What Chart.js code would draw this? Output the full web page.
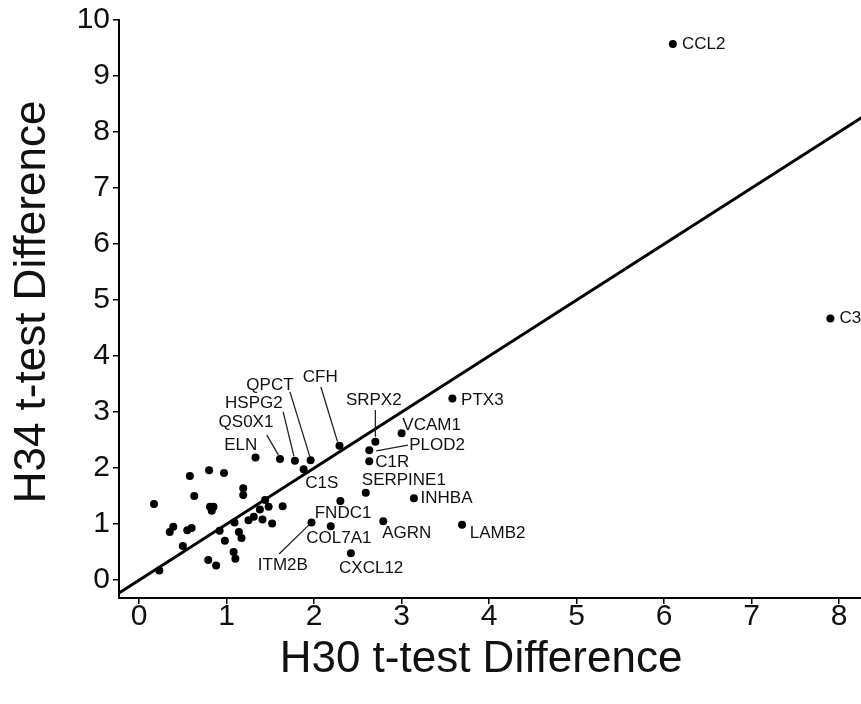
<!DOCTYPE html>
<html><head><meta charset="utf-8">
<script src="https://cdn.jsdelivr.net/npm/chart.js@4.4.1/dist/chart.umd.min.js"></script>
<style>html,body{margin:0;padding:0;background:#fff;overflow:hidden}#wrap{width:861px;height:704px;position:relative}</style>
</head><body><div id="wrap"><canvas id="c" width="861" height="704"></canvas></div>
<script>
// ---- data ----
const xTicks = [0,1,2,3,4,5,6,7,8];
const yTicks = [0,1,2,3,4,5,6,7,8,9,10];
const xTitle = 'H30 t-test Difference';
const yTitle = 'H34 t-test Difference';

const geneNames = ['CCL2','C3','PTX3','VCAM1','SRPX2','PLOD2','C1R','CFH','QPCT','HSPG2','QS0X1','ELN','C1S','SERPINE1','INHBA','LAMB2','AGRN','CXCL12','COL7A1','FNDC1','ITM2B'];
const geneX = [6.10,7.90,3.58,3.00,2.70,2.63,2.63,2.29,1.96,1.78,1.61,1.33,1.88,2.59,3.14,3.69,2.79,2.42,2.19,2.30,1.97];
const geneY = [9.57,4.67,3.24,2.62,2.47,2.32,2.12,2.40,2.14,2.13,2.16,2.19,1.98,1.56,1.46,0.99,1.05,0.48,0.96,1.41,1.03];

const otherX = [0.17,0.58,0.80,0.97,0.63,1.19,1.19,0.81,0.85,0.83,1.44,1.48,1.64,1.38,1.31,1.25,1.41,1.52,1.09,0.92,1.14,1.17,0.98,0.50,1.08,1.10,0.79,0.88,0.23,0.35,0.39,0.55,0.60];
const otherY = [1.36,1.86,1.96,1.91,1.50,1.64,1.52,1.31,1.31,1.24,1.43,1.31,1.32,1.26,1.13,1.07,1.08,1.01,1.03,0.88,0.86,0.75,0.70,0.61,0.50,0.38,0.36,0.26,0.17,0.86,0.95,0.89,0.93];

// identity reference line y = x
const refLine = [-1, 9];

// ---- label layout (pixel offsets from each point; styling only) ----
const labelLayout = {
  CCL2:{dx:9,dy:0,align:'left'},
  C3:{dx:9,dy:0,align:'left'},
  PTX3:{dx:8.7,dy:1.5,align:'left'},
  VCAM1:{dx:0.7,dy:-8.5,align:'left'},
  SRPX2:{dx:-1.6,dy:-41,align:'center',lead:[0,-31.7,0,-5]},
  PLOD2:{dx:40,dy:-5,align:'left',lead:[7,0.7,38.7,-5]},
  C1R:{dx:6,dy:1,align:'left'},
  CFH:{dx:-19.3,dy:-68.7,align:'center',lead:[-18.6,-58.7,-2,-4]},
  QPCT:{dx:-40.7,dy:-75,align:'center',lead:[-20.7,-68.3,-0.7,-3.3]},
  HSPG2:{dx:-41,dy:-57.4,align:'center',lead:[-11.7,-49,-1,-4.7]},
  QS0X1:{dx:-34,dy:-36.6,align:'center',lead:[-13.3,-24.3,-1.7,-4.3]},
  ELN:{dx:-14.7,dy:-12.3,align:'center'},
  C1S:{dx:18.2,dy:14,align:'center'},
  SERPINE1:{dx:38.1,dy:-12.7,align:'center'},
  INHBA:{dx:6.7,dy:0.3,align:'left'},
  LAMB2:{dx:7.7,dy:8.7,align:'left'},
  AGRN:{dx:-1,dy:12.3,align:'left'},
  CXCL12:{dx:20.3,dy:15,align:'center'},
  COL7A1:{dx:8.1,dy:12.3,align:'center'},
  FNDC1:{dx:2.7,dy:12,align:'center'},
  ITM2B:{dx:-28.7,dy:42.7,align:'center',lead:[-32.4,31.7,-2,2]}
};

const FONT = "'Liberation Sans', Arial, sans-serif";

const genePoints = geneX.map((x,i)=>({x:x,y:geneY[i],name:geneNames[i]}));
const otherPoints = otherX.map((x,i)=>({x:x,y:otherY[i]}));
const linePoints = refLine.map(v=>({x:v,y:v}));

const labelPlugin = {
  id:'geneLabels',
  afterDatasetsDraw(chart){
    const ctx = chart.ctx, xs = chart.scales.x, ys = chart.scales.y;
    ctx.save();
    ctx.font = "17px " + FONT;
    ctx.fillStyle = '#111';
    ctx.strokeStyle = '#222';
    ctx.lineWidth = 1.3;
    ctx.textBaseline = 'middle';
    genePoints.forEach(p=>{
      const L = labelLayout[p.name]; if(!L) return;
      const px = xs.getPixelForValue(p.x), py = ys.getPixelForValue(p.y);
      if (L.lead){
        ctx.beginPath();
        ctx.moveTo(px+L.lead[0], py+L.lead[1]);
        ctx.lineTo(px+L.lead[2], py+L.lead[3]);
        ctx.stroke();
      }
      ctx.textAlign = L.align;
      ctx.fillText(p.name, px+L.dx, py+L.dy);
    });
    ctx.restore();
  }
};

const titlePlugin = {
  id:'axisTitles',
  afterDraw(chart){
    const ctx = chart.ctx;
    ctx.save();
    ctx.fillStyle = '#111';
    ctx.font = "44px " + FONT;
    ctx.textAlign = 'center';
    ctx.textBaseline = 'alphabetic';
    ctx.fillText(xTitle, 481, 672);
    ctx.translate(45, 302);
    ctx.rotate(-Math.PI/2);
    ctx.fillText(yTitle, 0, 0);
    ctx.restore();
  }
};

new Chart(document.getElementById('c'), {
  type:'scatter',
  data:{datasets:[
    {label:'genes', data:genePoints, backgroundColor:'#000', borderWidth:0, pointRadius:4, pointHoverRadius:4, order:0},
    {label:'other', data:otherPoints, backgroundColor:'#000', borderWidth:0, pointRadius:4, pointHoverRadius:4, order:0},
    {label:'y = x', type:'line', data:linePoints, borderColor:'#000', borderWidth:3, pointRadius:0, fill:false, clip:0, order:1}
  ]},
  options:{
    responsive:false, animation:false,
    layout:{autoPadding:false, padding:{top:20,left:0,right:0,bottom:0}},
    plugins:{legend:{display:false}, tooltip:{enabled:false}, title:{display:false}},
    scales:{
      x:{type:'linear', min:-0.23, max:8.25,
        afterBuildTicks(s){ s.ticks = xTicks.map(v=>({value:v})); },
        afterFit(s){ s.height = 106; s.paddingLeft = 0; s.paddingRight = 0; },
        grid:{drawOnChartArea:false, drawTicks:true, tickLength:6, color:'#000', lineWidth:1.5},
        border:{display:true, color:'#000', width:2},
        ticks:{color:'#111', font:{family:FONT, size:30, lineHeight:0.9}, padding:-1, maxRotation:0, autoSkip:false},
        title:{display:false}
      },
      y:{type:'linear', min:-0.32, max:10,
        afterBuildTicks(s){ s.ticks = yTicks.map(v=>({value:v})); },
        afterFit(s){ s.width = 119; s.paddingTop = 0; s.paddingBottom = 0; },
        grid:{drawOnChartArea:false, drawTicks:true, tickLength:6, color:'#000', lineWidth:1.5},
        border:{display:true, color:'#000', width:2},
        ticks:{color:'#111', font:{family:FONT, size:30}, padding:3, autoSkip:false},
        title:{display:false}
      }
    }
  },
  plugins:[labelPlugin, titlePlugin]
});
</script>
</body></html>
